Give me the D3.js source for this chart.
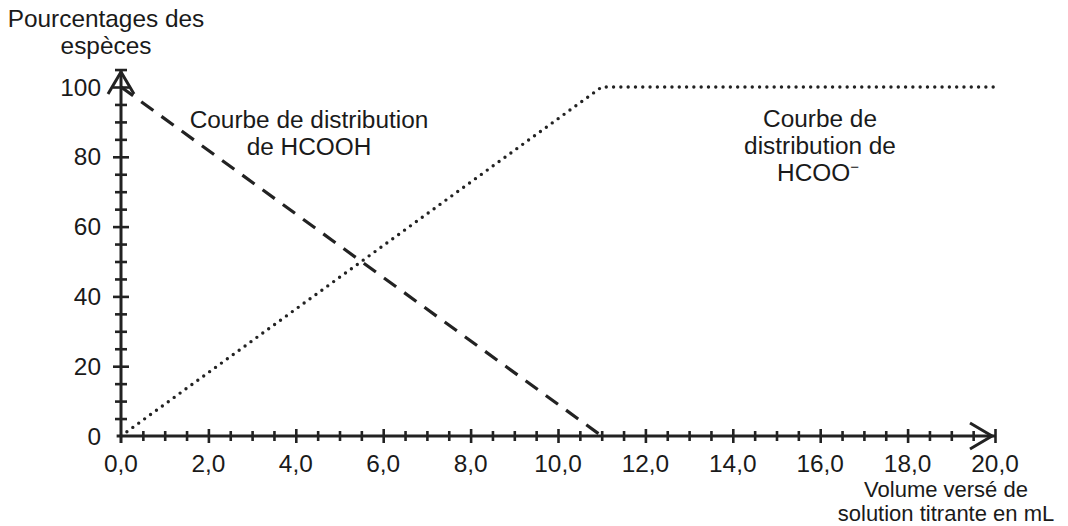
<!DOCTYPE html>
<html>
<head>
<meta charset="utf-8">
<script src="https://cdn.jsdelivr.net/npm/d3@7"></script>
<style>
  body { margin: 0; background: #fff; }
  svg text { font-family: "Liberation Sans", Arial, sans-serif; font-size: 24.4px; fill: #1a1a1a; }
</style>
</head>
<body>
<div id="chart"></div>
<script>
// data
var hcoohVolume = [0, 11];
var hcoohPercent = [100, 0];
var hcooVolume = [0, 11, 20];
var hcooPercent = [0, 100, 100];

var xTickValues = d3.range(0, 20.01, 0.5);
var xLabelValues = [0, 2, 4, 6, 8, 10, 12, 14, 16, 18, 20];
var yTickValues = d3.range(0, 105.01, 5);
var yLabelValues = [0, 20, 40, 60, 80, 100];

var width = 1068, height = 526;
var ink = "#222";

var svg = d3.select("#chart").append("svg")
    .attr("width", width)
    .attr("height", height);

var x = d3.scaleLinear().domain([0, 20]).range([121, 995]);
var y = d3.scaleLinear().domain([0, 100]).range([436, 87]);

// x axis
var xAxis = svg.append("g")
    .attr("transform", "translate(0," + y(0) + ")")
    .call(d3.axisBottom(x).tickValues(xTickValues).tickSize(0).tickPadding(0).tickFormat(""));
xAxis.select(".domain").remove();
xAxis.append("line")
    .attr("x1", x(-0.1)).attr("x2", x(20))
    .attr("stroke", ink).attr("stroke-width", 3);
xAxis.selectAll(".tick line")
    .attr("y1", function(d){ return d % 2 === 0 ? -7 : -5; })
    .attr("y2", function(d){ return d % 2 === 0 ? 7 : 5; })
    .attr("stroke", ink).attr("stroke-width", 2.6);
xAxis.selectAll(".tick")
    .filter(function(d){ return d === 0; })
    .select("line").remove();

// y axis
var yAxis = svg.append("g")
    .attr("transform", "translate(" + x(0) + ",0)")
    .call(d3.axisLeft(y).tickValues(yTickValues).tickSize(0).tickFormat(""));
yAxis.select(".domain").remove();
yAxis.append("line")
    .attr("y1", y(-2)).attr("y2", y(105))
    .attr("stroke", ink).attr("stroke-width", 3);
yAxis.selectAll(".tick line")
    .attr("x1", function(d){ return d % 20 === 0 ? -8 : -6; })
    .attr("x2", function(d){ return d % 20 === 0 ? 8 : 6; })
    .attr("stroke", ink).attr("stroke-width", 2.6);
yAxis.selectAll(".tick")
    .filter(function(d){ return d === 0; })
    .select("line").remove();

// arrow heads
svg.append("path")
    .attr("d", "M" + (x(0) - 13) + "," + 94 + "L" + x(0) + "," + 72 + "L" + (x(0) + 13) + "," + 94)
    .attr("fill", "none").attr("stroke", ink).attr("stroke-width", 3);
svg.append("path")
    .attr("d", "M" + 970 + "," + (y(0) - 13) + "L" + 992 + "," + y(0) + "L" + 970 + "," + (y(0) + 13))
    .attr("fill", "none").attr("stroke", ink).attr("stroke-width", 3);

// tick labels
svg.append("g").selectAll("text")
    .data(xLabelValues)
    .enter()
        .append("text")
        .attr("x", function(d){ return x(d); })
        .attr("y", 471.5)
        .attr("text-anchor", "middle")
        .text(function(d){ return d.toFixed(1).replace(".", ","); });

svg.append("g").selectAll("text")
    .data(yLabelValues)
    .enter()
        .append("text")
        .attr("x", 101)
        .attr("y", function(d){ return y(d) + 8.5; })
        .attr("text-anchor", "end")
        .text(function(d){ return d; });

// curves
var line = d3.line()
    .x(function(d){ return x(d[0]); })
    .y(function(d){ return y(d[1]); });

svg.append("path")
    .attr("d", line(d3.zip(hcoohVolume, hcoohPercent)))
    .attr("fill", "none")
    .attr("stroke", ink)
    .attr("stroke-width", 3.2)
    .attr("stroke-dasharray", "15 10");

svg.append("path")
    .attr("d", line(d3.zip(hcooVolume, hcooPercent)))
    .attr("fill", "none")
    .attr("stroke", ink)
    .attr("stroke-width", 3.4)
    .attr("stroke-linecap", "round")
    .attr("stroke-dasharray", "0 7.3");

// titles and annotations
function addLines(lines, cx, baselines) {
    var t = svg.append("text").attr("text-anchor", "middle");
    lines.forEach(function(s, i){
        t.append("tspan").attr("x", cx).attr("y", baselines[i]).text(s);
    });
    return t;
}

addLines(["Pourcentages des", "espèces"], 106, [27, 54]);
addLines(["Volume versé de", "solution titrante en mL"], 946, [496.5, 521])
    .style("font-size", "22px");
addLines(["Courbe de distribution", "de HCOOH"], 309, [128, 155]);
addLines(["Courbe de", "distribution de"], 820, [127, 154]);

var hcoo = svg.append("text").attr("x", 818).attr("y", 181).attr("text-anchor", "middle");
hcoo.append("tspan").text("HCOO");
hcoo.append("tspan").attr("dy", -9).style("font-size", "15px").text("\u2212");
</script>
</body>
</html>
